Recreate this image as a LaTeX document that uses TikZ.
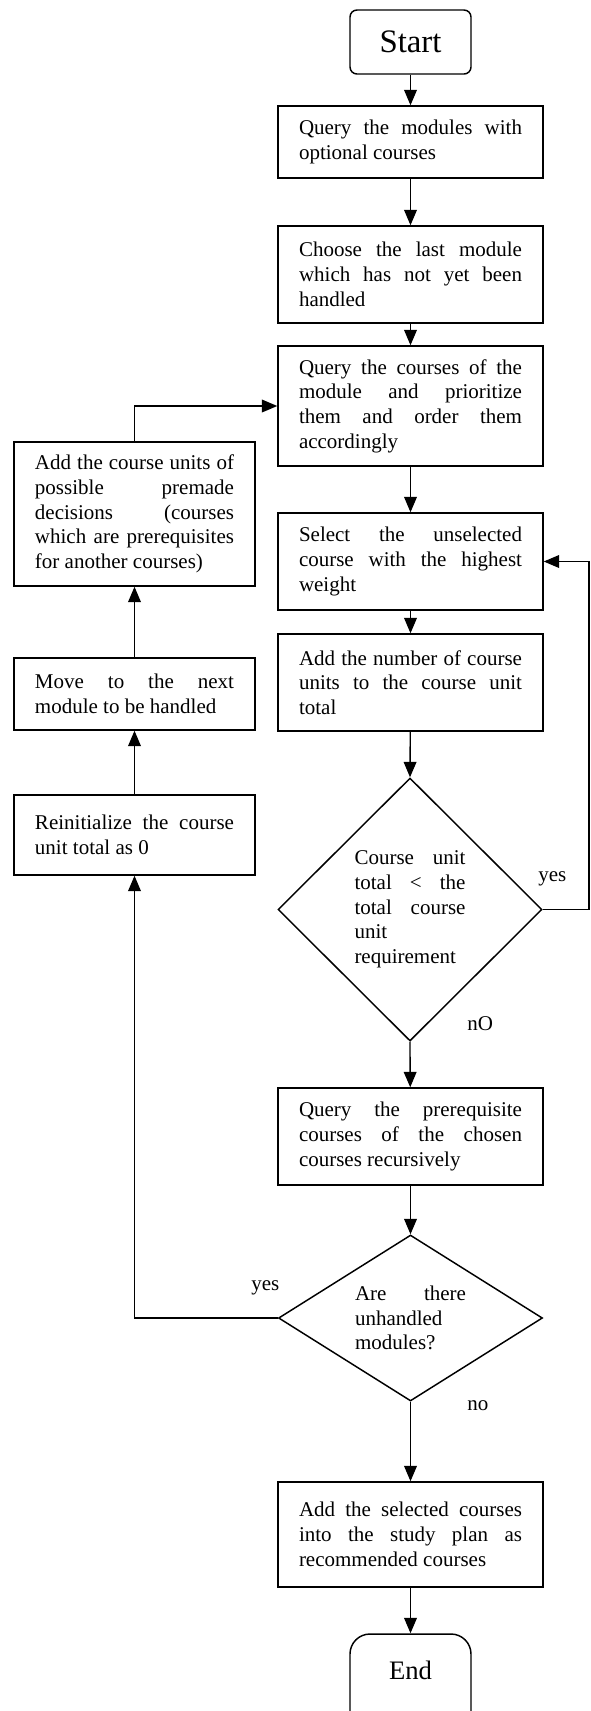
\documentclass[tikz,border=0pt]{standalone}
\usepackage{fontspec}
\setmainfont{Liberation Serif}
\usetikzlibrary{arrows.meta,shapes.geometric}
\hyphenpenalty=10000
\exhyphenpenalty=10000
\tolerance=9999
\begin{document}
\begin{tikzpicture}[x=0.75pt,y=-0.75pt,
  every node/.style={font=\fontsize{15.75pt}{18.56pt}\selectfont},
  procbox/.style={draw, line width=1.1pt, rectangle, align=justify, inner xsep=15.75pt, inner ysep=0pt},
  rbox/.style={procbox, text width=167.25pt},
  lbox/.style={procbox, text width=149.25pt},
  decbox/.style={draw, line width=1.1pt, diamond, inner sep=0pt, minimum width=198pt, align=justify, text width=83.25pt},
  arr/.style={line width=1pt, -{Triangle[length=11.5pt,width=9.5pt]}},
  lab/.style={inner sep=0pt, anchor=base west}]
\useasboundingbox (0,0) rectangle (590,1711);
\clip (0,0) rectangle (590,1711);
\fill[white] (0,0) rectangle (590,1711);

\node[draw, line width=1.1pt, rounded corners=5.25pt, minimum width=90.75pt, minimum height=48pt, inner sep=0pt,
      font=\fontsize{24.6pt}{29pt}\selectfont] (start) at (410.5,42) {Start};
\node[rbox, minimum height=54pt] (box1) at (410.5,142) {Query the modules with\linebreak optional courses};
\node[rbox, minimum height=72.75pt] (box2) at (410.5,274.5) {Choose the last module\linebreak which has not yet been\linebreak handled};
\node[rbox, minimum height=90pt] (box3) at (410.5,406) {Query the courses of the\linebreak module and prioritize\linebreak them and order them\linebreak accordingly};
\node[rbox, minimum height=72.75pt] (box4) at (410.5,561.5) {Select the unselected\linebreak course with the highest\linebreak weight};
\node[rbox, minimum height=72.75pt] (box5) at (410.5,682.5) {Add the number of course\linebreak units to the course unit\linebreak total};
\node[decbox, minimum height=197.25pt, aspect=1] (d1) at (410,909.5) {Course unit\linebreak total < the\linebreak total course\linebreak unit\newline requirement};
\node[rbox, minimum height=72.75pt] (box6) at (410.5,1136.5) {Query the prerequisite\linebreak courses of the chosen\linebreak courses recursively};
\node[decbox, minimum height=124.5pt, aspect=1.59] (d2) at (410.5,1318) {Are there\linebreak unhandled\newline modules?};
\node[rbox, minimum height=78.75pt] (box7) at (410.5,1534.5) {Add the selected courses\linebreak into the study plan as\linebreak recommended courses};
\node[draw, line width=1.1pt, rounded corners=15pt, minimum width=90.75pt, inner sep=0pt,
      text height=33.75pt, text depth=49.5pt, anchor=base,
      font=\fontsize{20pt}{24pt}\selectfont] (end) at (410.5,1679) {End};

\node[lbox, minimum height=108pt] (left1) at (134.5,514) {Add the course units of\linebreak possible premade\linebreak decisions (courses\linebreak which are prerequisites\linebreak for another courses)};
\node[lbox, minimum height=54pt] (left2) at (134.5,694) {Move to the next\linebreak module to be handled};
\node[lbox, minimum height=60pt] (left3) at (134.5,835) {Reinitialize the course\linebreak unit total as 0};

\node[lab] (yes1) at (538,881) {yes};
\node[lab] (no1) at (467,1030) {nO};
\node[lab] (yes2) at (251,1290) {yes};
\node[lab] (no2) at (467,1410) {no};

\draw[arr] (start) -- (box1);
\draw[arr] (box1) -- (box2);
\draw[arr] (box2) -- (box3);
\draw[arr] (box3) -- (box4);
\draw[arr] (box4) -- (box5);
\draw[arr] (box5) -- (d1.north);
\draw[arr] (d1.south) -- (box6);
\draw[arr] (box6) -- (d2.north);
\draw[arr] (d2.south) -- (box7);
\draw[arr] (box7) -- (end);
\coordinate (loopR) at (589,909.5);
\draw[arr] (d1.east) -- (loopR) |- (box4.east);
\draw[arr] (d2.west) -| (left3.south);
\draw[arr] (left3) -- (left2);
\draw[arr] (left2) -- (left1);
\draw[arr] (left1.north) |- (box3.west);
\end{tikzpicture}
\end{document}
